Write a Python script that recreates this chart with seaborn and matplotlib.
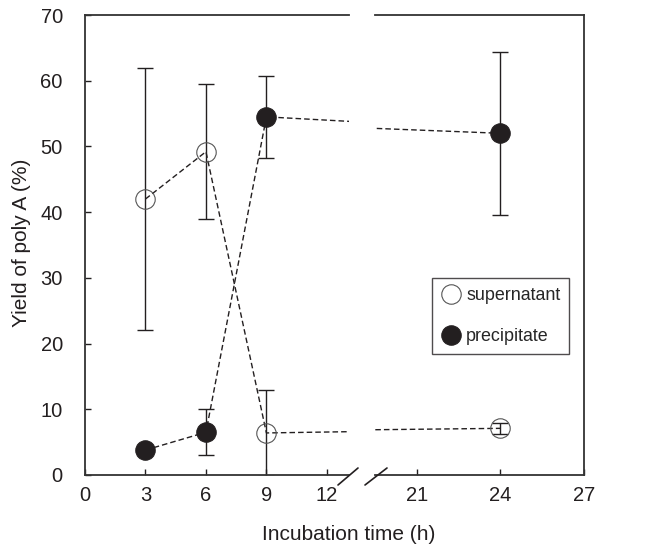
import numpy as np
import pandas as pd
import matplotlib
matplotlib.use("Agg")
import matplotlib.pyplot as plt
from matplotlib.lines import Line2D
import seaborn as sns

# values
time_h = [3, 6, 9, 24]
supernatant = [42.0, 49.2, 6.4, 7.1]
supernatant_err = [20.0, 10.3, 6.5, 0.85]
precipitate = [3.8, 6.5, 54.5, 52.0]
precipitate_err = [0.5, 3.5, 6.2, 12.4]
left_ticks = [0, 3, 6, 9, 12]
right_ticks = [21, 24, 27]
y_ticks = [0, 10, 20, 30, 40, 50, 60, 70]

sns.set_style("ticks")
plt.rcParams['font.family'] = ['Liberation Sans', 'DejaVu Sans']

df = pd.concat([
    pd.DataFrame({'time': time_h, 'yield': supernatant, 'err': supernatant_err, 'fraction': 'supernatant'}),
    pd.DataFrame({'time': time_h, 'yield': precipitate, 'err': precipitate_err, 'fraction': 'precipitate'}),
])

fig = plt.figure(figsize=(6.54, 5.54), dpi=100)
ax_l = fig.add_axes([0.130, 0.1426, 0.4037, 0.8303])
ax_r = fig.add_axes([0.5734, 0.1426, 0.3196, 0.8303])

ink = '#231f20'
styles = {
    'supernatant': dict(markerfacecolor='none', markeredgecolor='#555555', markeredgewidth=0.8),
    'precipitate': dict(markerfacecolor=ink, markeredgecolor=ink, markeredgewidth=0.8),
}

for ax in (ax_l, ax_r):
    for name, sub in df.groupby('fraction', sort=False):
        ax.errorbar(sub['time'], sub['yield'], yerr=sub['err'], fmt='none',
                    ecolor=ink, elinewidth=1.0, capsize=5.5, capthick=1.0, zorder=2)
        sns.lineplot(data=sub, x='time', y='yield', ax=ax, color=ink, linewidth=1.0,
                     dashes=False, linestyle=(0, (4, 2.2)), marker='o', markersize=14,
                     zorder=3, **styles[name])
    ax.set_ylim(0, 70)
    ax.set_xlabel('')
    ax.set_ylabel('')
    ax.tick_params(direction='in', length=4.5, width=1.0, labelsize=14.5, colors=ink)
    ax.tick_params(axis='x', pad=8)
    ax.tick_params(axis='y', pad=16)
    for sp in ax.spines.values():
        sp.set_linewidth(1.3)
        sp.set_color('#333333')

ax_l.set_xlim(0, 13.1)
ax_l.set_xticks(left_ticks)
ax_l.set_yticks(y_ticks)
ax_l.spines['right'].set_visible(False)

ax_r.set_xlim(19.5, 27)
ax_r.set_xticks(right_ticks)
ax_r.set_yticks([])
ax_r.spines['left'].set_visible(False)

# axis break marks
for x0, x1 in [(338, 358), (365, 387)]:
    fig.add_artist(Line2D([x0 / 654, x1 / 654], [(554 - 485) / 554, (554 - 468) / 554],
                          color=ink, linewidth=1.2))

fig.text(22 / 654, (554 - 243) / 554, 'Yield of poly A (%)', rotation=90,
         ha='center', va='center', fontsize=15, color=ink)
fig.text(349 / 654, (554 - 535) / 554, 'Incubation time (h)', ha='center', va='center',
         fontsize=15, color=ink)

handles = [
    Line2D([], [], linestyle='none', marker='o', markersize=14, **styles['supernatant']),
    Line2D([], [], linestyle='none', marker='o', markersize=14, **styles['precipitate']),
]
leg = ax_r.legend(handles, ['supernatant', 'precipitate'], loc='upper left',
                  bbox_to_anchor=(0.273, 0.428), frameon=True, fancybox=False,
                  fontsize=12.9, handletextpad=0.3, borderpad=0.5, labelspacing=1.35,
                  handlelength=1.1, borderaxespad=0)
leg.get_frame().set_edgecolor(ink)
leg.get_frame().set_linewidth(1.0)

fig.savefig('out.png', dpi=100)
